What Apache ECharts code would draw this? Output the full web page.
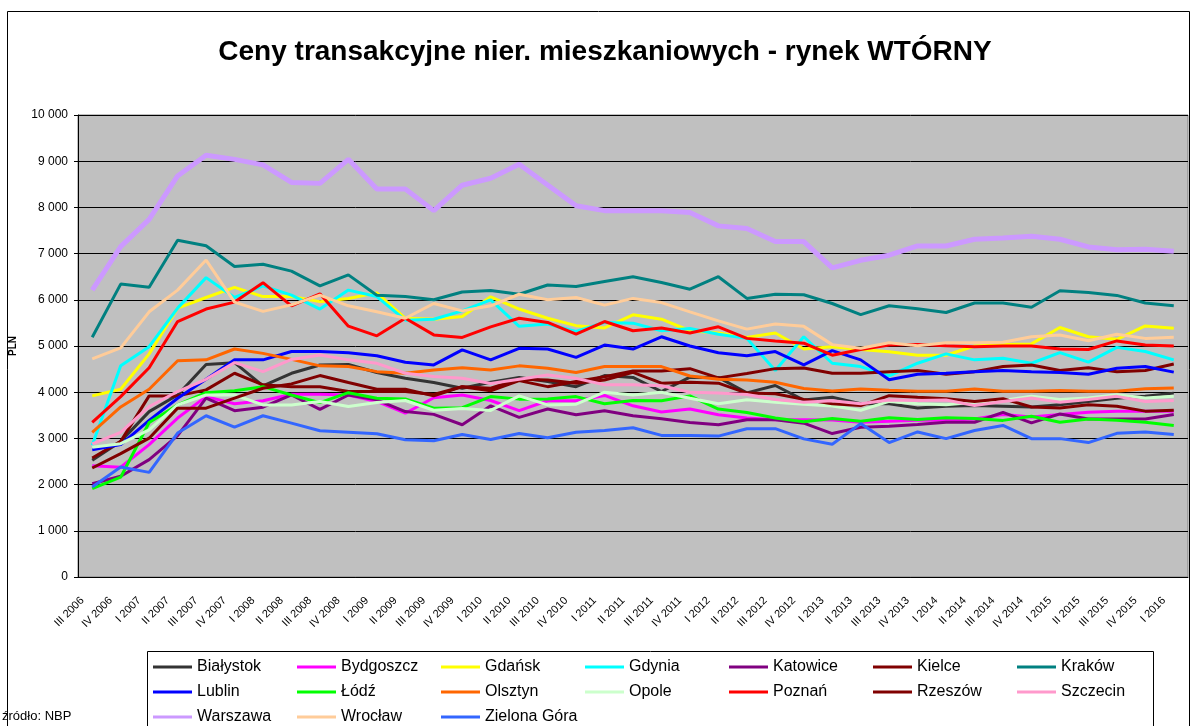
<!DOCTYPE html>
<html>
<head>
<meta charset="utf-8">
<title>Ceny transakcyjne - rynek wtórny</title>
<script src="https://cdn.jsdelivr.net/npm/echarts@6/dist/echarts.min.js"></script>
<style>
  html, body { margin: 0; padding: 0; background: #fff; }
  #chart { width: 1192px; height: 726px; }
</style>
</head>
<body>
<div id="chart"></div>
<script>
// kwartały
const categories = [
  'III 2006', 'IV 2006',
  'I 2007', 'II 2007', 'III 2007', 'IV 2007',
  'I 2008', 'II 2008', 'III 2008', 'IV 2008',
  'I 2009', 'II 2009', 'III 2009', 'IV 2009',
  'I 2010', 'II 2010', 'III 2010', 'IV 2010',
  'I 2011', 'II 2011', 'III 2011', 'IV 2011',
  'I 2012', 'II 2012', 'III 2012', 'IV 2012',
  'I 2013', 'II 2013', 'III 2013', 'IV 2013',
  'I 2014', 'II 2014', 'III 2014', 'IV 2014',
  'I 2015', 'II 2015', 'III 2015', 'IV 2015',
  'I 2016'
];

// ceny PLN/m2
const bialystok = [2525, 2935, 3580, 3940, 4600, 4640, 4135, 4410, 4590, 4600, 4425, 4300, 4210, 4085, 4215, 4320, 4230, 4120, 4360, 4320, 4015, 4325, 4320, 3985, 4145, 3830, 3890, 3750, 3750, 3660, 3695, 3710, 3695, 3680, 3730, 3800, 3870, 3910, 3980];
const bydgoszcz = [2410, 2375, 2865, 3440, 3905, 3750, 3815, 3955, 3955, 3940, 3800, 3545, 3880, 3940, 3820, 3600, 3815, 3815, 3930, 3705, 3570, 3635, 3510, 3440, 3405, 3405, 3400, 3350, 3370, 3395, 3395, 3420, 3515, 3465, 3515, 3565, 3590, 3590, 3590];
const gdansk = [3920, 4065, 4830, 5820, 6050, 6270, 6070, 6070, 5960, 6030, 6150, 5600, 5580, 5640, 6065, 5800, 5600, 5440, 5390, 5675, 5580, 5330, 5280, 5185, 5280, 4935, 4985, 4925, 4875, 4800, 4800, 5000, 5035, 5045, 5400, 5200, 5145, 5435, 5385];
const gdynia = [2850, 4570, 4985, 5820, 6480, 6050, 6300, 6100, 5800, 6210, 6070, 5560, 5580, 5760, 6000, 5425, 5475, 5315, 5510, 5495, 5330, 5380, 5255, 5165, 4470, 5200, 4627, 4555, 4355, 4627, 4830, 4700, 4735, 4627, 4857, 4650, 4970, 4880, 4700];
const katowice = [2020, 2180, 2540, 3060, 3870, 3600, 3675, 3940, 3630, 3940, 3835, 3580, 3520, 3295, 3705, 3455, 3635, 3510, 3600, 3490, 3425, 3345, 3295, 3405, 3405, 3330, 3105, 3240, 3265, 3300, 3350, 3350, 3565, 3335, 3530, 3420, 3420, 3420, 3515];
const kielce = [2575, 2935, 3920, 3920, 4050, 4410, 4160, 4120, 4120, 4015, 4015, 4015, 3950, 4120, 4030, 4250, 4120, 4230, 4335, 4460, 4460, 4510, 4310, 4405, 4510, 4525, 4410, 4410, 4445, 4470, 4390, 4445, 4555, 4590, 4470, 4530, 4445, 4470, 4610];
const krakow = [5190, 6340, 6270, 7290, 7170, 6720, 6770, 6620, 6300, 6540, 6100, 6070, 6000, 6170, 6200, 6120, 6320, 6290, 6395, 6500, 6375, 6230, 6500, 6030, 6120, 6110, 5920, 5680, 5870, 5805, 5725, 5930, 5930, 5840, 6195, 6160, 6095, 5930, 5870];
const lublin = [2755, 2865, 3390, 3870, 4280, 4700, 4700, 4880, 4880, 4855, 4790, 4650, 4590, 4915, 4700, 4950, 4935, 4755, 5020, 4935, 5200, 5000, 4855, 4790, 4880, 4590, 4900, 4700, 4270, 4390, 4410, 4445, 4470, 4445, 4425, 4390, 4520, 4555, 4435];
const lodz = [1915, 2160, 3345, 3725, 3990, 4030, 4120, 3940, 3775, 3990, 3870, 3855, 3655, 3665, 3905, 3850, 3855, 3905, 3750, 3820, 3815, 3920, 3635, 3560, 3440, 3360, 3430, 3370, 3445, 3410, 3445, 3430, 3390, 3480, 3350, 3420, 3395, 3350, 3280];
const olsztyn = [3130, 3680, 4065, 4680, 4700, 4935, 4840, 4710, 4570, 4555, 4445, 4410, 4480, 4530, 4480, 4570, 4520, 4425, 4555, 4555, 4555, 4350, 4280, 4265, 4215, 4080, 4025, 4070, 4040, 4020, 4020, 4070, 4020, 4020, 4035, 4020, 4020, 4075, 4090];
const opole = [2810, 2885, 3185, 3725, 3940, 3940, 3725, 3725, 3800, 3690, 3775, 3820, 3610, 3645, 3605, 3920, 3725, 3740, 4000, 3940, 4000, 3870, 3750, 3835, 3780, 3740, 3700, 3610, 3800, 3750, 3730, 3785, 3820, 3910, 3840, 3875, 3945, 3875, 3910];
const poznan = [3345, 3905, 4530, 5530, 5800, 5950, 6370, 5870, 6130, 5430, 5220, 5600, 5240, 5185, 5415, 5600, 5510, 5255, 5530, 5330, 5390, 5280, 5415, 5165, 5110, 5060, 4800, 4925, 5020, 5035, 5005, 4985, 5000, 5000, 4935, 4925, 5110, 5020, 5000];
const rzeszow = [2360, 2670, 3005, 3655, 3655, 3870, 4085, 4180, 4360, 4210, 4065, 4065, 3920, 4120, 4085, 4280, 4265, 4195, 4265, 4430, 4195, 4215, 4195, 3980, 3965, 3845, 3750, 3710, 3925, 3890, 3860, 3800, 3860, 3680, 3660, 3730, 3695, 3590, 3610];
const szczecin = [2880, 3130, 3690, 4015, 4280, 4640, 4445, 4710, 4805, 4700, 4625, 4410, 4340, 4300, 4190, 4280, 4370, 4300, 4160, 4160, 4140, 4000, 3985, 3950, 3840, 3780, 3815, 3750, 3830, 3820, 3830, 3710, 3800, 3875, 3785, 3840, 3910, 3800, 3820];
const warszawa = [6210, 7150, 7740, 8680, 9130, 9040, 8920, 8540, 8520, 9040, 8400, 8400, 7930, 8480, 8630, 8935, 8485, 8035, 7930, 7930, 7930, 7890, 7600, 7545, 7260, 7260, 6690, 6855, 6965, 7165, 7165, 7310, 7340, 7375, 7310, 7145, 7085, 7095, 7050];
const wroclaw = [4720, 4960, 5740, 6210, 6860, 5950, 5750, 5890, 6100, 5870, 5740, 5600, 5920, 5760, 5870, 6120, 6000, 6050, 5885, 6030, 5940, 5740, 5545, 5365, 5475, 5425, 5030, 4950, 5070, 5005, 5070, 5070, 5080, 5200, 5240, 5115, 5255, 5165, 5190];
const zielonaGora = [1950, 2380, 2265, 3115, 3490, 3245, 3490, 3330, 3165, 3135, 3100, 2970, 2950, 3085, 2975, 3105, 3015, 3135, 3170, 3230, 3065, 3065, 3050, 3210, 3210, 2990, 2875, 3320, 2910, 3140, 2995, 3170, 3280, 2995, 2995, 2910, 3110, 3140, 3085];

const cities = [
  ['Białystok', bialystok, '#333333'],
  ['Bydgoszcz', bydgoszcz, '#FF00FF'],
  ['Gdańsk', gdansk, '#FFFF00'],
  ['Gdynia', gdynia, '#00FFFF'],
  ['Katowice', katowice, '#800080'],
  ['Kielce', kielce, '#800000'],
  ['Kraków', krakow, '#008080'],
  ['Lublin', lublin, '#0000FF'],
  ['Łódź', lodz, '#00FF00'],
  ['Olsztyn', olsztyn, '#FF6600'],
  ['Opole', opole, '#CCFFCC'],
  ['Poznań', poznan, '#FF0000'],
  ['Rzeszów', rzeszow, '#800000'],
  ['Szczecin', szczecin, '#FF99CC'],
  ['Warszawa', warszawa, '#CC99FF'],
  ['Wrocław', wroclaw, '#FFCC99'],
  ['Zielona Góra', zielonaGora, '#3366FF']
];

const FONT = 'Arial, "Liberation Sans", sans-serif';

const chart = echarts.init(document.getElementById('chart'));

chart.setOption({
  backgroundColor: '#fff',
  animation: false,
  graphic: [
    {
      type: 'text',
      x: 605,
      y: 38,
      style: {
        text: 'Ceny transakcyjne nier. mieszkaniowych - rynek WTÓRNY',
        fontFamily: FONT,
        fontSize: 28,
        fontWeight: 'bold',
        fill: '#000',
        align: 'center',
        verticalAlign: 'top'
      }
    },
    {
      type: 'rect',
      shape: { x: 7.5, y: 11.5, width: 1182, height: 740 },
      style: { fill: null, stroke: '#000', lineWidth: 1 },
      silent: true
    },
    {
      type: 'rect',
      shape: { x: 147.5, y: 651.5, width: 1006, height: 100 },
      style: { fill: null, stroke: '#000', lineWidth: 1 },
      silent: true
    },
    {
      type: 'text',
      left: 2,
      top: 710,
      style: { text: 'źródło: NBP', fontFamily: FONT, fontSize: 13, fill: '#000' }
    }
  ],
  // legenda: 7 kolumn, po jednej pozycji na komórkę
  legend: cities.map((c, i) => ({
    left: 153 + 144 * (i % 7),
    top: 659 + 25 * Math.floor(i / 7),
    padding: 0,
    itemWidth: 39,
    itemHeight: 3,
    icon: 'rect',
    selectedMode: false,
    data: [c[0]],
    textStyle: { fontFamily: FONT, fontSize: 16, color: '#000' }
  })),
  grid: {
    left: 78,
    right: 4,
    top: 115,
    bottom: 149,
    show: true,
    backgroundColor: '#C0C0C0',
    borderColor: '#808080',
    borderWidth: 1
  },
  xAxis: {
    type: 'category',
    data: categories,
    boundaryGap: true,
    axisLine: { lineStyle: { color: '#000', width: 1 } },
    axisTick: { interval: 0, length: 5, lineStyle: { color: '#000' } },
    axisLabel: {
      interval: 0,
      rotate: 45,
      margin: 12,
      padding: [0, 14, 0, 0],
      fontFamily: FONT,
      fontSize: 11,
      color: '#000'
    }
  },
  yAxis: {
    type: 'value',
    min: 0,
    max: 10000,
    interval: 1000,
    name: 'PLN',
    nameLocation: 'middle',
    nameGap: 60,
    nameTextStyle: { fontFamily: FONT, fontSize: 10, fontWeight: 'bold', color: '#000' },
    axisLine: { show: true, lineStyle: { color: '#000', width: 1 } },
    axisTick: { show: true, length: 4, lineStyle: { color: '#000' } },
    axisLabel: {
      margin: 10,
      fontFamily: FONT,
      fontSize: 12,
      color: '#000',
      formatter: v => String(v).replace(/\B(?=(\d{3})+(?!\d))/g, ' ')
    },
    splitLine: { lineStyle: { color: '#000', width: 1 } }
  },
  series: cities.map(([name, data, color]) => ({
    name,
    type: 'line',
    data,
    symbol: 'none',
    color,
    lineStyle: { color, width: name === 'Warszawa' ? 5 : 3 },
    emphasis: { disabled: true }
  }))
});
</script>
</body>
</html>
